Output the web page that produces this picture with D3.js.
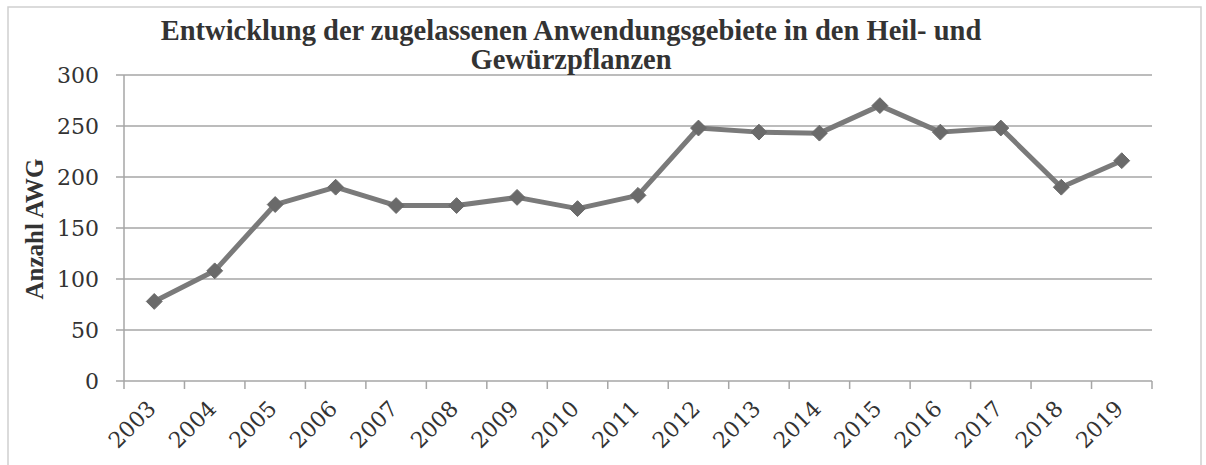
<!DOCTYPE html>
<html><head><meta charset="utf-8">
<script src="https://cdn.jsdelivr.net/npm/d3@7"></script>
<style>html,body{margin:0;padding:0;background:#fff;}svg{display:block;}</style>
</head><body>
<script>
const years = ["2003","2004","2005","2006","2007","2008","2009","2010","2011","2012","2013","2014","2015","2016","2017","2018","2019"];
const values = [78,108,173,190,172,172,180,169,182,248,244,243,270,244,248,190,216];
const yTicks = [0,50,100,150,200,250,300];
const titleLines = ["Entwicklung der zugelassenen Anwendungsgebiete in den Heil- und","Gewürzpflanzen"];
const yTitle = "Anzahl AWG";

const W = 1206, H = 465;
const m = {left:124, right:1152, top:75, bottom:381};
const svg = d3.select("body").append("svg").attr("width",W).attr("height",H);

// frame
svg.append("rect").attr("x",8).attr("y",7).attr("width",1193).attr("height",470)
  .attr("fill","none").attr("stroke","#cfcfcf").attr("stroke-width",1.5);

const x = d3.scaleBand().domain(years).range([m.left,m.right]).padding(0);
const y = d3.scaleLinear().domain([0,300]).range([m.bottom,m.top]);

// gridlines
svg.append("g").selectAll("line").data(yTicks).join("line")
  .attr("x1",m.left-8).attr("x2",m.right)
  .attr("y1",d=>y(d)).attr("y2",d=>y(d))
  .attr("stroke","#a6a6a6").attr("stroke-width",1.5);

// y axis line
svg.append("line").attr("x1",m.left).attr("x2",m.left).attr("y1",m.top).attr("y2",m.bottom)
  .attr("stroke","#a6a6a6").attr("stroke-width",1.5);

// y tick labels
svg.append("g").selectAll("text").data(yTicks).join("text")
  .attr("x",99).attr("y",d=>y(d)).attr("dy","0.36em")
  .attr("text-anchor","end")
  .attr("font-family","DejaVu Serif").attr("font-size",22).attr("fill","#333")
  .text(d=>d);

// x ticks at band boundaries
const bounds = years.map(d=>x(d)).concat([m.right]);
svg.append("g").selectAll("line").data(bounds).join("line")
  .attr("x1",d=>d).attr("x2",d=>d).attr("y1",m.bottom).attr("y2",m.bottom+8)
  .attr("stroke","#a6a6a6").attr("stroke-width",1.5);

// x labels
svg.append("g").selectAll("text").data(years).join("text")
  .attr("transform",d=>`translate(${x(d)+x.bandwidth()/2+3},${m.bottom+29}) rotate(-45)`)
  .attr("text-anchor","end")
  .attr("font-family","DejaVu Serif").attr("font-size",22).attr("fill","#333")
  .text(d=>d);

// line
const cx = d=>x(d)+x.bandwidth()/2;
const data = years.map((d,i)=>({year:d,v:values[i]}));
svg.append("path").datum(data)
  .attr("d",d3.line().x(d=>cx(d.year)).y(d=>y(d.v)))
  .attr("fill","none").attr("stroke","#7a7a7a").attr("stroke-width",5).attr("stroke-linejoin","round");

// markers
svg.append("g").selectAll("path").data(data).join("path")
  .attr("transform",d=>`translate(${cx(d.year)},${y(d.v)})`)
  .attr("d",d3.symbol(d3.symbolDiamond2, 160))
  .attr("fill","#6a6a6a").attr("stroke","#6a6a6a").attr("stroke-width",1);

// title
svg.append("g").selectAll("text").data(titleLines).join("text")
  .attr("x",571).attr("y",(d,i)=>40+i*29)
  .attr("text-anchor","middle")
  .attr("font-family","Liberation Serif").attr("font-weight","bold").attr("font-size",28.5).attr("fill","#333")
  .text(d=>d);

// y title
svg.append("text").attr("transform","translate(43,229) rotate(-90)")
  .attr("text-anchor","middle")
  .attr("font-family","Liberation Serif").attr("font-weight","bold").attr("font-size",25).attr("fill","#333")
  .text(yTitle);
</script>
</body></html>
